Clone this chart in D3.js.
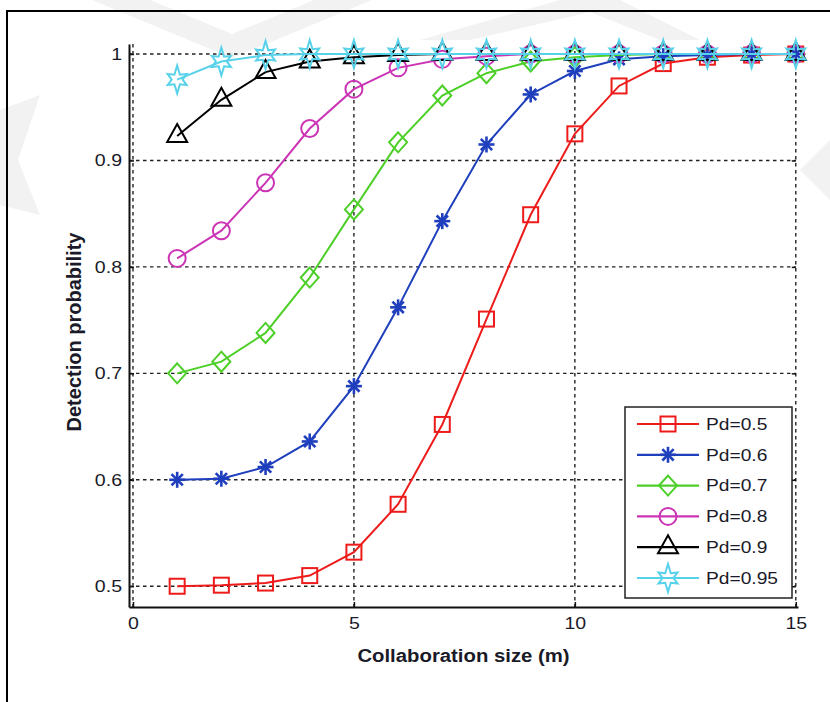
<!DOCTYPE html>
<html>
<head>
<meta charset="utf-8">
<script src="https://cdn.jsdelivr.net/npm/d3@7"></script>
<style>
  html, body { margin: 0; padding: 0; background: #fff; }
  svg { display: block; }
  text { font-family: "Liberation Sans", Arial, sans-serif; fill: #1a1a28; }
</style>
</head>
<body>
<svg id="chart" width="830" height="702"></svg>
<script>
// Collaboration size m = 1..15
const sizes = [1, 2, 3, 4, 5, 6, 7, 8, 9, 10, 11, 12, 13, 14, 15];

// Detection probability for each single-node Pd
const pd050 = [0.500, 0.501, 0.503, 0.510, 0.532, 0.577, 0.652, 0.751, 0.849, 0.925, 0.970, 0.991, 0.997, 0.999, 1.000];
const pd060 = [0.600, 0.601, 0.612, 0.636, 0.688, 0.762, 0.843, 0.915, 0.962, 0.984, 0.995, 0.998, 0.999, 1.000, 1.000];
const pd070 = [0.700, 0.711, 0.738, 0.790, 0.854, 0.917, 0.961, 0.982, 0.993, 0.997, 0.999, 1.000, 1.000, 1.000, 1.000];
const pd080 = [0.808, 0.834, 0.879, 0.930, 0.967, 0.987, 0.995, 0.998, 1.000, 1.000, 1.000, 1.000, 1.000, 1.000, 1.000];
const pd090 = [0.923, 0.957, 0.983, 0.993, 0.997, 0.999, 1.000, 1.000, 1.000, 1.000, 1.000, 1.000, 1.000, 1.000, 1.000];
const pd095 = [0.976, 0.993, 0.999, 1.000, 1.000, 1.000, 1.000, 1.000, 1.000, 1.000, 1.000, 1.000, 1.000, 1.000, 1.000];

const seriesNames = ["Pd=0.5", "Pd=0.6", "Pd=0.7", "Pd=0.8", "Pd=0.9", "Pd=0.95"];
const seriesColors = ["#ee1b1b", "#1f3fbd", "#4ccf27", "#cb35b5", "#000000", "#57d2ea"];
const seriesMarkers = ["square", "asterisk", "diamond", "circle", "triangle", "hexagram"];

const xTicks = [0, 5, 10, 15];
const yTicks = [0.5, 0.6, 0.7, 0.8, 0.9, 1.0];

const xLabel = "Collaboration size (m)";
const yLabel = "Detection probability";

const seriesValues = [pd050, pd060, pd070, pd080, pd090, pd095];
const series = seriesNames.map((name, i) => ({
  name, color: seriesColors[i], marker: seriesMarkers[i],
  points: sizes.map((m, j) => ({ m, v: seriesValues[i][j] }))
}));

const svg = d3.select("#chart");
const W = 830, H = 702;

svg.append("rect").attr("width", W).attr("height", H).attr("fill", "#fff");

// faint background chevrons
const wm = svg.append("g").attr("fill", "#f2f2f2");
[
  [[92, 0], [150, 0], [232, 34], [314, 0], [372, 0], [232, 58]],
  [[420, 40], [560, 0], [620, 0], [700, 40], [660, 40], [590, 12], [470, 40]],
  [[0, 110], [40, 95], [18, 160], [40, 215], [0, 205]],
  [[830, 140], [800, 170], [830, 200]]
].forEach(p => wm.append("polygon").attr("points", p.map(d => d.join(",")).join(" ")));

// outer frame
svg.append("path").attr("d", "M7,702 V11 H830")
  .attr("fill", "none").attr("stroke", "#000").attr("stroke-width", 2);

const plotL = 129, plotR = 798, plotT = 44, plotB = 607;
const x = d3.scaleLinear().domain([-0.09, 15.05]).range([plotL, plotR]);
const y = d3.scaleLinear().domain([0.4805, 1.0094]).range([plotB, plotT]);

// dashed grid
const grid = svg.append("g").attr("stroke", "#222").attr("stroke-width", 1.4)
  .attr("stroke-dasharray", "3.5,3.5");
grid.selectAll("line.h").data(yTicks).join("line").attr("class", "h")
  .attr("x1", plotL).attr("x2", x(15)).attr("y1", d => y(d)).attr("y2", d => y(d));
grid.selectAll("line.v").data(xTicks).join("line").attr("class", "v")
  .attr("x1", d => x(d)).attr("x2", d => x(d)).attr("y1", plotT).attr("y2", plotB);

// helper to widen text horizontally
function widen(sel, sx) {
  sel.each(function () {
    const t = d3.select(this);
    const tx = +t.attr("x") || 0;
    t.attr("x", 0).attr("transform", `translate(${tx},0) scale(${sx},1)`);
  });
}

// axes
const yAxis = svg.append("g").attr("transform", `translate(${plotL},0)`)
  .call(d3.axisLeft(y).tickValues(yTicks).tickFormat(d3.format("~g"))
    .tickSizeInner(-5).tickSizeOuter(0).tickPadding(7));
const xAxis = svg.append("g").attr("transform", `translate(0,${plotB})`)
  .call(d3.axisBottom(x).tickValues(xTicks).tickFormat(d3.format("d"))
    .tickSizeInner(-5).tickSizeOuter(0).tickPadding(10));
const rAxis = svg.append("g").attr("transform", `translate(${x(15)},0)`)
  .call(d3.axisRight(y).tickValues(yTicks).tickFormat("")
    .tickSizeInner(-4).tickSizeOuter(0));
rAxis.select(".domain").remove();

[yAxis, xAxis, rAxis].forEach(a => {
  a.selectAll(".domain").attr("stroke", "#111").attr("stroke-width", 2);
  a.selectAll(".tick line").attr("stroke", "#111").attr("stroke-width", 1.5);
  a.selectAll("text").attr("font-size", 17).attr("fill", "#1a1a28")
    .style("font-family", '"Liberation Sans", Arial, sans-serif');
});
widen(yAxis.selectAll(".tick text"), 1.15);
widen(xAxis.selectAll(".tick text"), 1.15);

// axis titles
svg.append("text").attr("text-anchor", "middle").attr("font-weight", "bold")
  .attr("font-size", 18)
  .attr("transform", `translate(${(plotL + plotR) / 2},662) scale(1.13,1)`)
  .text(xLabel);
svg.append("text").attr("text-anchor", "middle").attr("font-weight", "bold")
  .attr("font-size", 20)
  .attr("transform", `translate(81,332) rotate(-90)`)
  .text(yLabel);

// marker shapes
function drawMarker(g, type, color) {
  const s = g.append("g").attr("fill", "none").attr("stroke", color)
    .attr("stroke-width", 2).attr("stroke-linejoin", "miter");
  switch (type) {
    case "square":
      s.append("rect").attr("x", -7.5).attr("y", -7.5).attr("width", 15).attr("height", 15);
      break;
    case "asterisk":
      s.attr("stroke-width", 2.6);
      [0, 45, 90, 135].forEach(a => {
        const r = 8, c = Math.cos(a * Math.PI / 180) * r, sn = Math.sin(a * Math.PI / 180) * r;
        s.append("line").attr("x1", -c).attr("y1", -sn).attr("x2", c).attr("y2", sn);
      });
      break;
    case "diamond":
      s.append("path").attr("d", "M0,-10 L9,0 L0,10 L-9,0 Z");
      break;
    case "circle":
      s.append("circle").attr("r", 8.5);
      break;
    case "triangle":
      s.append("path").attr("d", "M0,-12 L10,6 L-10,6 Z");
      break;
    case "hexagram": {
      const pts = [];
      for (let k = 0; k < 12; k++) {
        const ang = -Math.PI / 2 + k * Math.PI / 6;
        const r = k % 2 === 1 ? 5.5 : (k % 6 === 0 ? 14 : 11);
        pts.push([Math.cos(ang) * r, Math.sin(ang) * r]);
      }
      s.append("path").attr("d", "M" + pts.map(p => p.join(",")).join("L") + "Z");
      break;
    }
  }
}

// series lines and markers
const line = d3.line().x(d => x(d.m)).y(d => y(d.v));
series.forEach(sr => {
  const g = svg.append("g");
  g.append("path").attr("d", line(sr.points)).attr("fill", "none")
    .attr("stroke", sr.color).attr("stroke-width", 2);
  sr.points.forEach(p => {
    const mg = g.append("g").attr("transform", `translate(${x(p.m)},${y(p.v)})`);
    drawMarker(mg, sr.marker, sr.color);
  });
});

// legend
const lg = svg.append("g").attr("transform", "translate(625,407)");
lg.append("rect").attr("width", 167).attr("height", 191).attr("fill", "#fff")
  .attr("stroke", "#222").attr("stroke-width", 1.5);
series.forEach((sr, i) => {
  const ry = 17 + i * 30.8;
  const row = lg.append("g").attr("transform", `translate(0,${ry})`);
  row.append("line").attr("x1", 12).attr("x2", 74).attr("y1", 0).attr("y2", 0)
    .attr("stroke", sr.color).attr("stroke-width", 2.2);
  drawMarker(row.append("g").attr("transform", "translate(43,0)"), sr.marker, sr.color);
  row.append("text").attr("font-size", 16).attr("dy", "0.36em")
    .attr("transform", "translate(81,0) scale(1.2,1)").text(sr.name);
});
</script>
</body>
</html>
